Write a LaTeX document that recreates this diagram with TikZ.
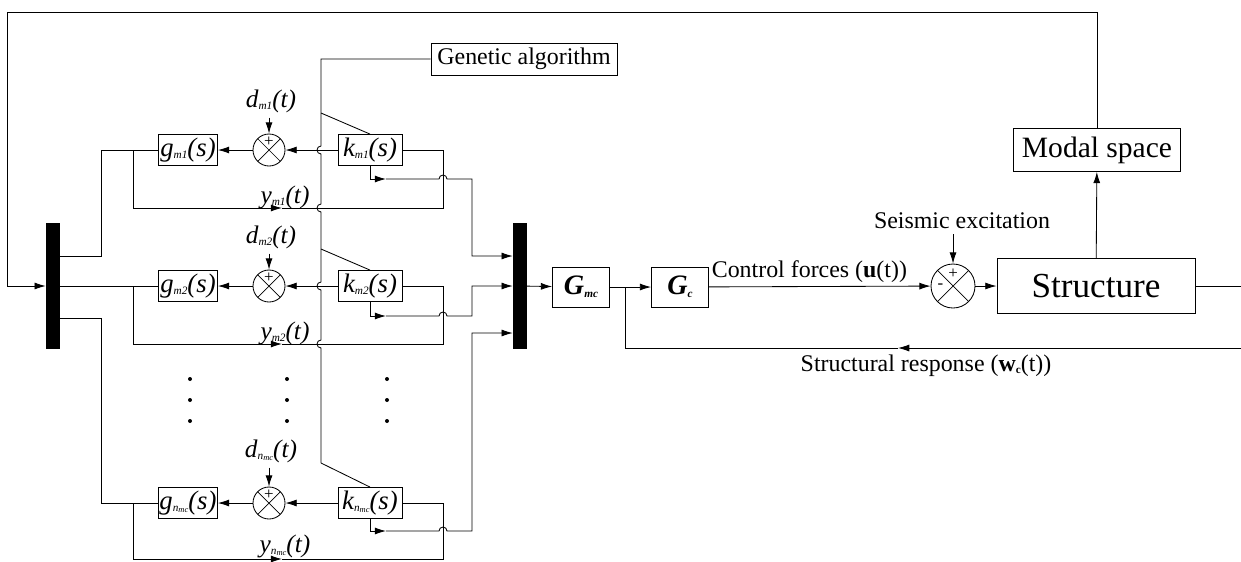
\documentclass[tikz,border=0pt]{standalone}
\usepackage{fontspec}
\setmainfont{Liberation Serif}
\usetikzlibrary{arrows.meta}
\newcommand{\sbs}[1]{\raisebox{-0.2ex}{\fontsize{8}{8}\selectfont #1}}
\newcommand{\nmc}{n\raisebox{-0.2ex}{\fontsize{6}{6}\selectfont mc}}
\begin{document}
\begin{tikzpicture}[x=0.025cm,y=-0.025cm,line width=0.6pt,
  >={Latex[length=8pt,width=5pt]},
  font=\fontsize{17}{19}\selectfont,
  blk/.style={draw,inner sep=0pt,minimum height=0.775cm},
  gblk/.style={blk,minimum width=1.475cm,font=\fontsize{19}{19}\selectfont\itshape},
  kblk/.style={blk,minimum width=1.6cm,font=\fontsize{19}{19}\selectfont\itshape},
  bigblk/.style={blk,minimum width=1.425cm,minimum height=1cm,font=\fontsize{20}{20}\selectfont\bfseries\itshape},
  bar/.style={fill=black,inner sep=0pt,minimum width=0.34cm,minimum height=3.125cm},
  sumj/.style={circle,draw,inner sep=0pt,minimum size=0.8cm,path picture={
    \draw[line width=0.5pt] (path picture bounding box.north west) -- (path picture bounding box.south east)
      (path picture bounding box.north east) -- (path picture bounding box.south west);}},
  sgn/.style={inner sep=0pt,font=\fontsize{12}{12}\selectfont},
  lbl/.style={font=\fontsize{18}{19}\selectfont\itshape}]
\useasboundingbox (0,0) rectangle (1241,561);
% mux / demux bars
\node[bar] (dmx) at (53,286) {};
\node[bar] (mux) at (520,286) {};
% first row
\node[gblk] (g1) at (188,150) {g\sbs{m1}(s)};
\node[sumj] (s1) at (269,150) {};
\node[sgn] (p1) at ([yshift=6pt]s1) {+};
\node[kblk] (k1) at (370,150) {k\sbs{m1}(s)};
\node[lbl] (d1) at (271,101) {d\sbs{m1}(t)};
\node[lbl] (y1) at (285,197) {y\sbs{m1}(t)};
% second row
\node[gblk] (g2) at (188,286) {g\sbs{m2}(s)};
\node[sumj] (s2) at (269,286) {};
\node[sgn] (p2) at ([yshift=6pt]s2) {+};
\node[kblk] (k2) at (370,286) {k\sbs{m2}(s)};
\node[lbl] (d2) at (271,237) {d\sbs{m2}(t)};
\node[lbl] (y2) at (285,333) {y\sbs{m2}(t)};
% last row
\node[gblk] (g3) at (188,503) {g\sbs{\nmc}(s)};
\node[sumj] (s3) at (269,503) {};
\node[sgn] (p3) at ([yshift=6pt]s3) {+};
\node[kblk] (k3) at (370,503) {k\sbs{\nmc}(s)};
\node[lbl] (d3) at (271,451) {d\sbs{\nmc}(t)};
\node[lbl] (y3) at (285,546) {y\sbs{\nmc}(t)};
% dots
\fill (190,379) circle[radius=0.05cm] (190,400) circle[radius=0.05cm] (190,421) circle[radius=0.05cm]
      (287,379) circle[radius=0.05cm] (287,400) circle[radius=0.05cm] (287,421) circle[radius=0.05cm]
      (387,379) circle[radius=0.05cm] (387,400) circle[radius=0.05cm] (387,421) circle[radius=0.05cm];
% genetic algorithm
\node[blk,minimum width=4.65cm,minimum height=0.8cm] (ga) at (524,59) {Genetic algorithm};
\draw (ga.west) -- (321,59) -- (321,146) arc[start angle=90,end angle=270,radius=0.1cm]
  -- (321,204) arc[start angle=90,end angle=270,radius=0.1cm]
  -- (321,282) arc[start angle=90,end angle=270,radius=0.1cm]
  -- (321,340) arc[start angle=90,end angle=270,radius=0.1cm] -- (321,463);
\draw (321,113) -- (k1.north);
\draw (321,249) -- (k2.north);
\draw (321,463) -- (k3.north);
% right part
\node[bigblk] (gmc) at (581,287) {G\sbs{mc}};
\node[bigblk] (gc) at (680,287) {G\sbs{c}};
\coordinate (br) at (625,287);
\node[sumj,minimum size=1.1cm] (s4) at (953,286) {};
\node[sgn] (p4) at ([yshift=8.5pt]s4) {+};
\node[sgn] (m4) at ([xshift=-9pt]s4) {-};
\node[draw,inner sep=0pt,minimum width=4.95cm,minimum height=1.375cm,font=\fontsize{25}{25}\selectfont] (st) at (1096,286) {Structure};
\node[draw,inner sep=0pt,minimum width=4.175cm,minimum height=1.075cm,font=\fontsize{21}{21}\selectfont] (ms) at (1097,150) {Modal space};
\node (se) at (962,221) {Seismic excitation};
\node[anchor=south west,inner sep=1pt] (cf) at (710,284) {Control forces (\textbf{u}(t))};
\node (sr) at (926,366) {Structural response (\textbf{w}\sbs{\bfseries c}(t))};
% row connectors
\draw[->] (s1) -- (g1);
\draw[->] (k1) -- (s1);
\draw[->] (d1.south -| s1) -- (s1.north);
\draw (dmx.east |- 0,256) -| (101,150) -- (g1);
\draw[->] (133,150) |- (282,208);
\draw (282,208) -| (443,150) -- (k1);
\draw[->] (k1.south) |- (386,179);
\draw[->] (386,179) -- (439,179) arc[start angle=180,end angle=0,radius=0.1cm] -- (472,179) |- (mux.west |- 0,256);
\draw[->] (s2) -- (g2);
\draw[->] (k2) -- (s2);
\draw[->] (d2.south -| s2) -- (s2.north);
\draw (dmx) -- (g2);
\draw[->] (133,286) |- (282,344);
\draw (282,344) -| (443,286) -- (k2);
\draw[->] (k2.south) |- (386,316);
\draw[->] (386,316) -- (439,316) arc[start angle=180,end angle=0,radius=0.1cm] -- (472,316) |- (mux);
\draw[->] (s3) -- (g3);
\draw[->] (k3) -- (s3);
\draw[->] (d3.south -| s3) -- (s3.north);
\draw (dmx.east |- 0,318) -| (101,503) -- (g3);
\draw[->] (133,503) |- (282,559);
\draw (282,559) -| (443,503) -- (k3);
\draw[->] (k3.south) |- (386,531);
\draw[->] (386,531) -- (439,531) arc[start angle=180,end angle=0,radius=0.1cm] -- (472,531) |- (mux.west |- 0,333);
% main loop
\draw[->] (mux) -- (gmc);
\draw[->] (gmc) -- (gc);
\draw[->] (gc) -- (s4);
\draw[->] (s4) -- (st);
\draw[->] (se.south -| s4) -- (s4.north);
\draw[->] (st) -- (ms);
\draw[->] (ms.north) |- (7,12) -- (7,286) -- (dmx);
\draw (st.east) -- (1241,286);
\draw[->] (1241,348) -- (898,348);
\draw (898,348) -| (br);
\end{tikzpicture}
\end{document}
